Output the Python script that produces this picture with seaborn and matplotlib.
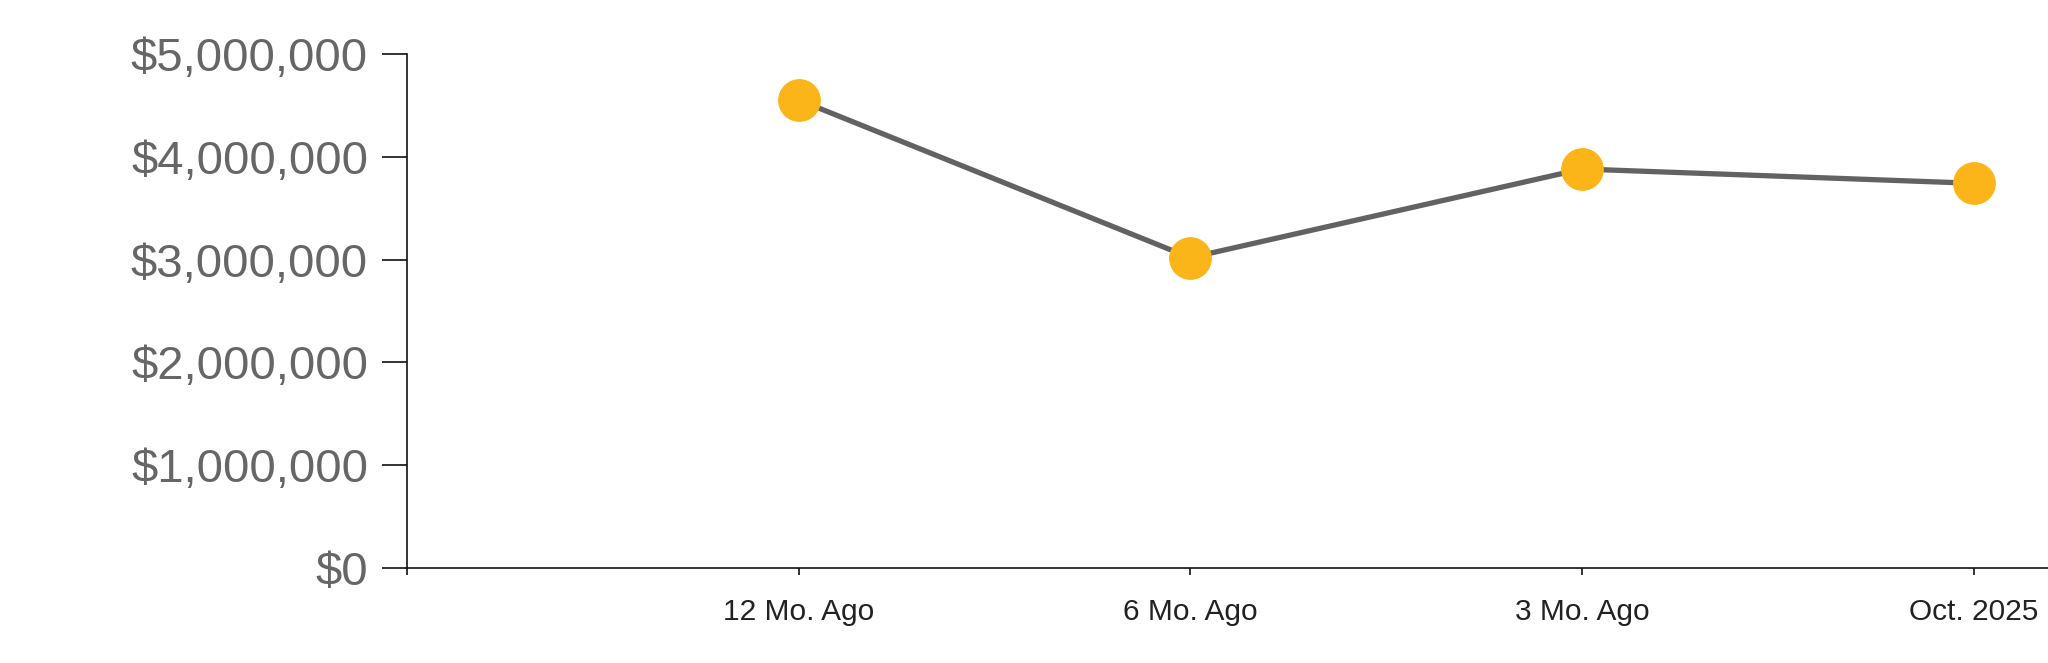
import matplotlib
matplotlib.use("Agg")
import matplotlib.pyplot as plt
import seaborn as sns
from matplotlib.ticker import FuncFormatter

# data
periods = ["12 Mo. Ago", "6 Mo. Ago", "3 Mo. Ago", "Oct. 2025"]
positions = [1, 2, 3, 4]
values = [4553000, 3018000, 3881000, 3742000]
y_ticks = [0, 1000000, 2000000, 3000000, 4000000, 5000000]


def main():
    sns.set_style("white")
    plt.rcParams["font.family"] = ["Liberation Sans", "DejaVu Sans"]

    fig = plt.figure(figsize=(20.48, 6.63), dpi=100)
    ax = fig.add_axes([0.1987, 0.1433, 0.8013, 0.7753])

    sns.lineplot(x=positions, y=values, ax=ax, color="#626262", linewidth=3.8,
                 marker="o", markersize=30, markerfacecolor="#FBB519",
                 markeredgecolor="#FBB519", clip_on=False)

    ax.set_ylim(0, 5000000)
    ax.set_xlim(0, 4.19)
    ax.set_yticks(y_ticks)
    ax.yaxis.set_major_formatter(FuncFormatter(lambda v, _: f"${v:,.0f}"))
    ax.set_xticks([0] + positions)
    ax.set_xticklabels([""] + periods)

    for side in ["top", "right"]:
        ax.spines[side].set_visible(False)
    for side in ["left", "bottom"]:
        ax.spines[side].set_color("#111111")
        ax.spines[side].set_linewidth(1.2)

    ax.tick_params(axis="y", length=18, width=1.2, color="#111111",
                   labelsize=34, labelcolor="#666666", pad=10, left=True)
    ax.tick_params(axis="x", length=5, width=1.2, color="#111111",
                   labelsize=21.5, labelcolor="#222222", pad=16.5, bottom=True)
    ax.set_xlabel("")
    ax.set_ylabel("")

    fig.savefig("out.png", dpi=100)


if __name__ == "__main__":
    main()
